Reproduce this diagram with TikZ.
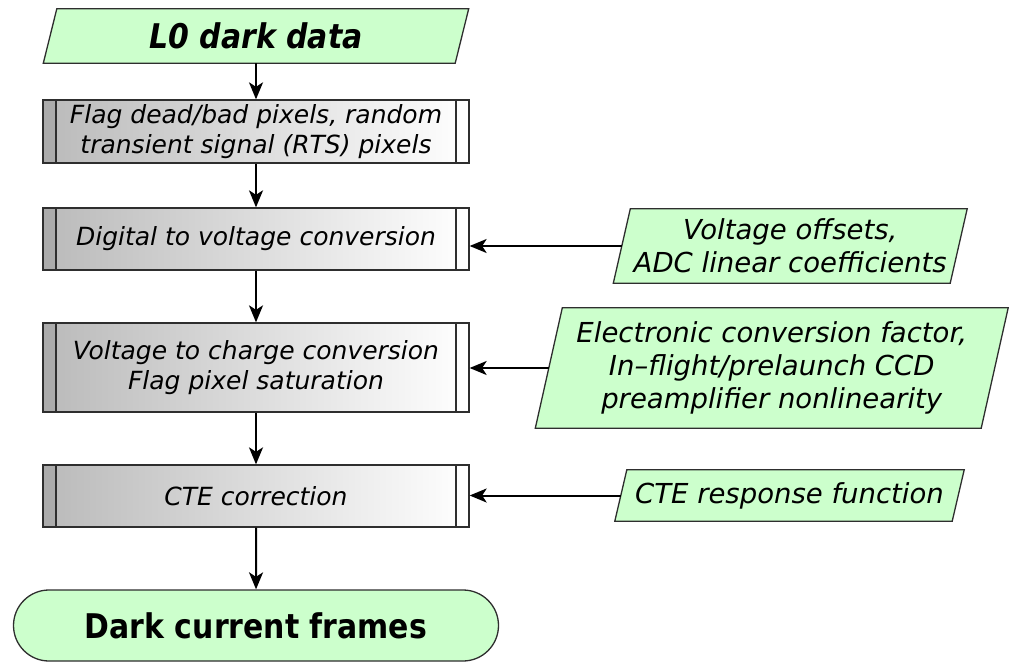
\documentclass[tikz,border=0pt]{standalone}
\usepackage{fontspec}
\setmainfont{DejaVu Sans}
\newfontfamily\headfont{DejaVu Sans}[FakeStretch=0.88]
\usetikzlibrary{arrows.meta,shapes.misc,backgrounds}

\definecolor{datagreen}{HTML}{CCFFCC}
\definecolor{edgegray}{HTML}{2E2E2E}
\definecolor{shadedark}{HTML}{BABABA}
\definecolor{stripdark}{HTML}{ABABAB}

% outline of a slanted data box drawn behind the named text node #1, slant #2
\newcommand\slantoutline[2]{%
  \begin{scope}[on background layer]
    \draw[dataline] ([xshift=#2/2]#1.north west) -- ([xshift=#2/2]#1.north east)
      -- ([xshift=-#2/2]#1.south east) -- ([xshift=-#2/2]#1.south west) -- cycle;
  \end{scope}}

\tikzset{
  procfont/.style={font=\fontsize{25}{30}\selectfont\itshape},
  inputfont/.style={font=\fontsize{27.5}{33}\selectfont\itshape},
  process/.style={rectangle, draw=edgegray, line width=1.3pt,
    left color=shadedark, right color=white, inner sep=0pt,
    minimum width=426pt, align=center, procfont,
    path picture={
      \fill[stripdark] (path picture bounding box.north west) rectangle
        ([xshift=13pt]path picture bounding box.south west);
      \draw[edgegray, line width=1.1pt]
        ([xshift=13pt]path picture bounding box.north west) --
        ([xshift=13pt]path picture bounding box.south west);
      \draw[edgegray, line width=1.1pt]
        ([xshift=-13pt]path picture bounding box.north east) --
        ([xshift=-13pt]path picture bounding box.south east);}},
  datatext/.style={rectangle, inner sep=0pt, align=center, inputfont},
  dataline/.style={draw=edgegray, line width=1.3pt, fill=datagreen},
  terminal/.style={rounded rectangle, draw=edgegray, line width=1.3pt,
    fill=datagreen, inner sep=0pt},
  flow/.style={-{Stealth[length=17pt,width=14pt,inset=4.5pt]}, line width=2pt, black}
}

\begin{document}
\begin{tikzpicture}[x=1pt,y=-1pt]
\useasboundingbox (0,0) rectangle (1009,663);

% main chain
\node[datatext, minimum width=411.5pt, minimum height=54pt,
      font=\headfont\bfseries\itshape\fontsize{34}{40}\selectfont] (l0) at (256,36) {L0 dark data};
\slantoutline{l0}{13.5pt}

\node[process, minimum height=63pt] (b1) at (256,131.5)
  {Flag dead/bad pixels, random\\transient signal (RTS) pixels};
\node[process, minimum height=62pt] (b2) at (256,239) {Digital to voltage conversion};
\node[process, minimum height=89pt] (b3) at (256,367.5)
  {Voltage to charge conversion\\Flag pixel saturation};
\node[process, minimum height=62pt] (b4) at (256,496) {CTE correction};

\node[terminal, minimum width=485pt, minimum height=71pt,
      font=\headfont\bfseries\fontsize{34}{40}\selectfont] (out) at (256,625.5) {Dark current frames};

% calibration inputs
\node[datatext, minimum width=336.5pt, minimum height=74pt] (vo) at (790.25,246)
  {Voltage offsets,\\ADC linear coefficients};
\slantoutline{vo}{17pt}

\node[datatext, minimum width=445.5pt, minimum height=120pt] (ec) at (771.75,368)
  {Electronic conversion factor,\\In--flight/prelaunch CCD\\preamplifier nonlinearity};
\slantoutline{ec}{27pt}

\node[datatext, minimum width=337pt, minimum height=51pt] (cr) at (789.5,495.5)
  {CTE response function};
\slantoutline{cr}{12pt}

% connectors
\draw[flow] (l0) -- (b1);
\draw[flow] (b1) -- (b2);
\draw[flow] (b2) -- (b3);
\draw[flow] (b3) -- (b4);
\draw[flow] (b4) -- (out);
\draw[flow] (vo.west) -- (vo.west -| b2.east);
\draw[flow] (ec.west) -- (ec.west -| b3.east);
\draw[flow] (cr.west) -- (cr.west -| b4.east);
\end{tikzpicture}
\end{document}
